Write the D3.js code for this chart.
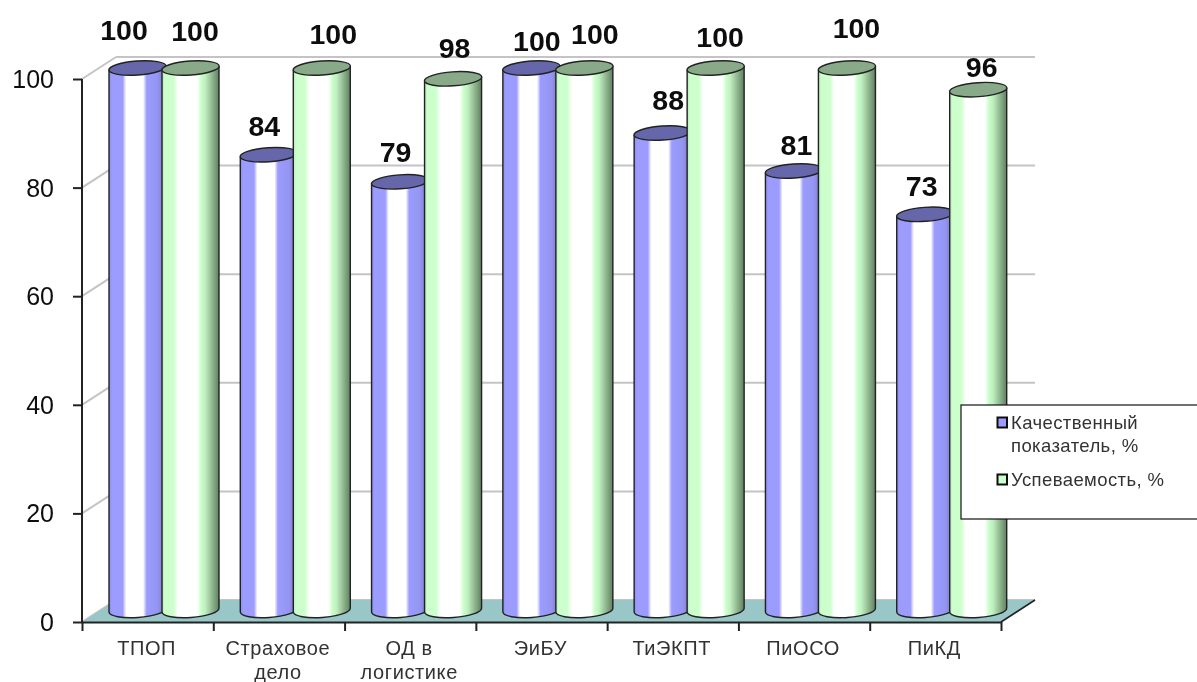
<!DOCTYPE html>
<html><head><meta charset="utf-8">
<script src="https://cdn.jsdelivr.net/npm/d3@7"></script>
<style>html,body{margin:0;background:#fff}svg{display:block}text{font-family:"Liberation Sans",Arial,sans-serif}</style>
</head><body><svg id="c" width="1197" height="682"></svg>
<script>
const categories=[["ТПОП"],["Страховое","дело"],["ОД в","логистике"],["ЭиБУ"],["ТиЭКПТ"],["ПиОСО"],["ПиКД"]];
const quality=[100,84,79,100,88,81,73];
const success=[100,100,98,100,100,100,96];
const seriesNames=["Качественный показатель, %","Успеваемость, %"];
const yTicks=[0,20,40,60,80,100];
// hand-placed label offsets (px) from each bar's left edge and top
const labelOffQ=[[15,-28],[24,-19],[24,-20],[34,-17],[34,-23],[31,-16],[25,-18]];
const labelOffS=[[33,-27],[40,-24],[30,-21],[39,-24],[33,-21],[38,-30],[32,-13]];

const svg=d3.select("#c");
const F={x0:82,x1:1001,y0:622,y100:79,dx:34,dy:-22};
const y=d3.scaleLinear().domain([0,100]).range([F.y0,F.y100]);
const yBar=d3.scaleLinear().domain([0,100]).range([610,68]);
const x=d3.scaleBand().domain(d3.range(categories.length)).range([F.x0,F.x1]);
const sub=d3.scaleOrdinal().domain([0,1]).range([27,80]);
const bw=57, ry=7.5;

const defs=svg.append("defs");
function grad(id,stops){
  const g=defs.append("linearGradient").attr("id",id);
  stops.forEach(s=>g.append("stop").attr("offset",s[0]).attr("stop-color",s[1]));
}
grad("gQ",[[0,"#8c8ce8"],[.05,"#9c9cff"],[.24,"#9c9cff"],[.3,"#fff"],[.6,"#fff"],[.66,"#9c9cff"],[.86,"#9494f0"],[1,"#6f6fb8"]]);
grad("gS",[[0,"#b8e8b8"],[.05,"#ccffcc"],[.2,"#ccffcc"],[.28,"#fff"],[.62,"#fff"],[.68,"#ccffcc"],[.76,"#bfeebf"],[1,"#5f7f5f"]]);
const blur=defs.append("filter").attr("id","soft").attr("x","-2%").attr("y","-2%").attr("width","104%").attr("height","104%");
blur.append("feGaussianBlur").attr("stdDeviation",0.45);

const root=svg.append("g").attr("filter","url(#soft)");

// walls
const grid="#c4c4c4";
root.selectAll("line.grid").data(yTicks).join("line").attr("class","grid")
  .attr("x1",F.x0).attr("y1",d=>y(d)).attr("x2",F.x0+F.dx).attr("y2",d=>y(d)+F.dy)
  .attr("stroke",grid).attr("stroke-width",2);
root.selectAll("line.back").data(yTicks).join("line").attr("class","back")
  .attr("x1",F.x0+F.dx).attr("y1",d=>y(d)+F.dy).attr("x2",F.x1+F.dx).attr("y2",d=>y(d)+F.dy)
  .attr("stroke",grid).attr("stroke-width",2);
// floor
root.append("path").attr("fill","#99c6c6").attr("d",d3.line()([
  [F.x0,F.y0],[F.x0+F.dx,F.y0+F.dy],[F.x1+F.dx,F.y0+F.dy],[F.x1,F.y0]]));
root.append("path").attr("fill","none").attr("stroke","#222").attr("stroke-width",1.6)
  .attr("d",d3.line()([[F.x1+F.dx,F.y0+F.dy],[F.x1,F.y0]]));

// axes
const axisL=d3.axisLeft(y).tickValues(yTicks).tickSize(9).tickSizeOuter(0);
const gL=root.append("g").attr("transform",`translate(${F.x0},0)`).call(axisL);
gL.selectAll("path,line").attr("stroke","#222").attr("stroke-width",2);
gL.selectAll("text").attr("font-size",25).attr("fill","#111").attr("x",-28).attr("dy","0.34em");
gL.select(".domain").attr("d",`M0,${F.y100}V${F.y0}`);

const axisB=d3.axisBottom(d3.scaleLinear().domain([0,categories.length]).range([F.x0,F.x1]))
  .ticks(categories.length).tickSize(9).tickSizeOuter(0).tickFormat("");
const gB=root.append("g").attr("transform",`translate(0,${F.y0})`).call(axisB);
gB.selectAll("path,line").attr("stroke","#222").attr("stroke-width",2);

// bars
function cyl(px,val,fill,topFill){
  const g=root.append("g");
  const t=yBar(val), b=yBar(0), r=bw/2, cx=px+r;
  g.append("path").attr("fill",`url(#${fill})`).attr("stroke","#222").attr("stroke-width",1.4)
   .attr("d",`M${px},${t+2}L${px},${b+2}A${r},${ry} -4 0 0 ${px+bw},${b-2}L${px+bw},${t-2}`);
  g.append("ellipse").attr("cx",cx).attr("cy",t).attr("rx",r+.2).attr("ry",ry-.5)
   .attr("transform",`rotate(-4 ${cx} ${t})`).attr("fill",topFill).attr("stroke","#222").attr("stroke-width",1.4);
}
categories.forEach((c,i)=>{
  cyl(x(i)+sub(0),quality[i],"gQ","#6666aa");
  cyl(x(i)+sub(1),success[i],"gS","#88aa88");
});

// value labels
function lab(vals,off,k){
  root.append("g").selectAll("text").data(vals).join("text")
    .attr("x",(d,i)=>x(i)+sub(k)+off[i][0])
    .attr("y",(d,i)=>yBar(d)+off[i][1])
    .attr("text-anchor","middle").attr("font-size",28.5).attr("font-weight","bold").attr("fill","#111")
    .text(d=>d);
}
lab(quality,labelOffQ,0);
lab(success,labelOffS,1);

// category labels
categories.forEach((c,i)=>{
  const t=root.append("text").attr("text-anchor","middle").attr("font-size",20).attr("letter-spacing",0.6).attr("fill","#333");
  c.forEach((l,j)=>t.append("tspan").attr("x",x(i)+x.bandwidth()/2-1).attr("y",655+j*24).text(l));
});

// legend
const lg=root.append("g");
lg.append("rect").attr("x",961).attr("y",405).attr("width",240).attr("height",114).attr("fill","#fff").attr("stroke","#111").attr("stroke-width",1.2);
[["#9c9cff",417.5],["#ccffcc",474.5]].forEach(s=>lg.append("rect").attr("x",997.5).attr("y",s[1]).attr("width",9.5).attr("height",10)
  .attr("fill",s[0]).attr("stroke","#111").attr("stroke-width",2));
const words=seriesNames[0].split(" ");
[[words[0],429],[words[1]+" "+words[2],452],[seriesNames[1],486]].forEach(s=>lg.append("text")
  .attr("x",1011).attr("y",s[1]).attr("font-size",18.5).attr("letter-spacing",0.4).attr("fill","#333").text(s[0]));
</script></body></html>
